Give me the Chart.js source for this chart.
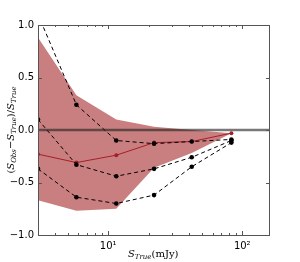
<!DOCTYPE html>
<html>
<head>
<meta charset="utf-8">
<script src="https://cdn.jsdelivr.net/npm/chart.js@4"></script>
<style>
  html, body { margin: 0; padding: 0; background: #fff; }
  #wrap { width: 300px; height: 262px; position: relative; }
</style>
</head>
<body>
<div id="wrap"><canvas id="chart" width="300" height="262"></canvas></div>
<script>
// --- データ ---
const sTrue = [3, 5.8, 11.5, 22, 42, 83];
const meanValues = [-0.23, -0.31, -0.24, -0.12, -0.11, -0.03];
const bandUpper = [0.88, 0.33, 0.10, 0.03, 0.0, -0.03];
const bandLower = [-0.67, -0.77, -0.75, -0.36, -0.22, -0.03];
const dashA = [1.1, 0.24, -0.10, -0.13, -0.11, -0.09];
const dashB = [0.10, -0.33, -0.44, -0.37, -0.26, -0.10];
const dashC = [-0.37, -0.64, -0.70, -0.62, -0.35, -0.12];
const xTickValues = [3, 4, 5, 6, 7, 8, 9, 10, 20, 30, 40, 50, 60, 70, 80, 90, 100];
const xTickLabels = { 10: '10\u00B9', 100: '10\u00B2' };
const yTickValues = [-1, -0.5, 0, 0.5, 1];

const pts = arr => arr.map((v, i) => ({ x: sTrue[i], y: v }));

function dashed(values) {
    return {
        data: pts(values),
        borderColor: '#000',
        borderWidth: 1,
        borderDash: [4, 3],
        pointRadius: 2.3,
        pointBackgroundColor: '#000',
        pointBorderWidth: 0,
        fill: false,
        tension: 0,
        order: 1
    };
}

// 枠線・内側目盛り・ゼロ線・軸タイトル
const decorPlugin = {
    id: 'decor',
    afterDatasetsDraw(chart) {
        const c = chart.ctx;
        const a = chart.chartArea;
        const xs = chart.scales.x, ys = chart.scales.y;
        c.save();
        // zero line
        const y0 = ys.getPixelForValue(0);
        c.strokeStyle = 'rgba(30,30,30,0.6)';
        c.lineWidth = 2.5;
        c.beginPath(); c.moveTo(a.left, y0); c.lineTo(a.right, y0); c.stroke();
        // frame
        c.strokeStyle = '#555';
        c.lineWidth = 1;
        c.strokeRect(a.left + 0.5, a.top + 0.5, a.right - a.left - 1, a.bottom - a.top);
        // ticks inside
        c.beginPath();
        xTickValues.forEach(v => {
            const px = Math.round(xs.getPixelForValue(v)) + 0.5;
            const len = xTickLabels[v] ? 4 : 2;
            c.moveTo(px, a.bottom); c.lineTo(px, a.bottom - len);
            c.moveTo(px, a.top); c.lineTo(px, a.top + len);
        });
        yTickValues.forEach(v => {
            const py = Math.round(ys.getPixelForValue(v)) + 0.5;
            c.moveTo(a.left, py); c.lineTo(a.left + 4, py);
            c.moveTo(a.right, py); c.lineTo(a.right - 4, py);
        });
        c.stroke();

        // x title: S_True(mJy)
        c.fillStyle = '#000';
        c.textBaseline = 'alphabetic';
        let x = 128, yb = 257;
        c.font = 'italic 10px "DejaVu Serif"';
        c.fillText('S', x, yb); x += c.measureText('S').width;
        c.font = 'italic 7px "DejaVu Serif"';
        c.fillText('True', x, yb + 2); x += c.measureText('True').width;
        c.font = '10px "DejaVu Serif"';
        c.fillText('(mJy)', x, yb);

        // y title: (S_Obs − S_True)/S_True
        c.translate(10, 130);
        c.rotate(-Math.PI / 2);
        const parts = [
            ['(', '10px "DejaVu Serif"', 0],
            ['S', 'italic 10px "DejaVu Serif"', 0],
            ['Obs', 'italic 7px "DejaVu Serif"', 2],
            ['\u2212', '10px "DejaVu Serif"', 0],
            ['S', 'italic 10px "DejaVu Serif"', 0],
            ['True', 'italic 7px "DejaVu Serif"', 2],
            [')/', '10px "DejaVu Serif"', 0],
            ['S', 'italic 10px "DejaVu Serif"', 0],
            ['True', 'italic 7px "DejaVu Serif"', 2]
        ];
        let total = 0;
        parts.forEach(p => { c.font = p[1]; total += c.measureText(p[0]).width; });
        let px = -total / 2;
        parts.forEach(p => {
            c.font = p[1];
            c.fillText(p[0], px, 4 + p[2]);
            px += c.measureText(p[0]).width;
        });
        c.restore();
    }
};

new Chart(document.getElementById('chart'), {
    type: 'line',
    data: {
        datasets: [
            {
                data: pts(bandUpper),
                borderWidth: 0,
                pointRadius: 0,
                backgroundColor: 'rgba(165,42,42,0.6)',
                fill: '+1',
                tension: 0,
                order: 3
            },
            {
                data: pts(bandLower),
                borderWidth: 0,
                pointRadius: 0,
                fill: false,
                tension: 0,
                order: 3
            },
            {
                data: pts(meanValues),
                borderColor: 'rgb(165,30,40)',
                borderWidth: 1,
                pointRadius: 2,
                pointBackgroundColor: 'rgb(165,30,40)',
                pointBorderWidth: 0,
                fill: false,
                tension: 0,
                order: 2
            },
            dashed(dashA),
            dashed(dashB),
            dashed(dashC)
        ]
    },
    options: {
        responsive: false,
        animation: false,
        layout: { padding: { top: 25, right: 30, left: 0, bottom: 0 } },
        plugins: { legend: { display: false }, tooltip: { enabled: false } },
        scales: {
            x: {
                type: 'logarithmic',
                min: 3,
                max: 161,
                afterBuildTicks: s => { s.ticks = xTickValues.map(v => ({ value: v })); },
                afterFit: s => { s.height = 27; },
                grid: { display: false, drawTicks: false },
                border: { display: false },
                ticks: {
                    autoSkip: false,
                    maxRotation: 0,
                    padding: 5,
                    color: '#000',
                    font: { family: 'DejaVu Sans', size: 10 },
                    callback: v => xTickLabels[v] || ''
                }
            },
            y: {
                min: -1,
                max: 1,
                afterBuildTicks: s => { s.ticks = yTickValues.map(v => ({ value: v })); },
                afterFit: s => { s.width = 38; },
                grid: { display: false, drawTicks: false },
                border: { display: false },
                ticks: {
                    padding: 4,
                    color: '#000',
                    font: { family: 'DejaVu Sans', size: 10 },
                    callback: v => v.toFixed(1).replace('-', '\u2212')
                }
            }
        }
    },
    plugins: [decorPlugin]
});
</script>
</body>
</html>
